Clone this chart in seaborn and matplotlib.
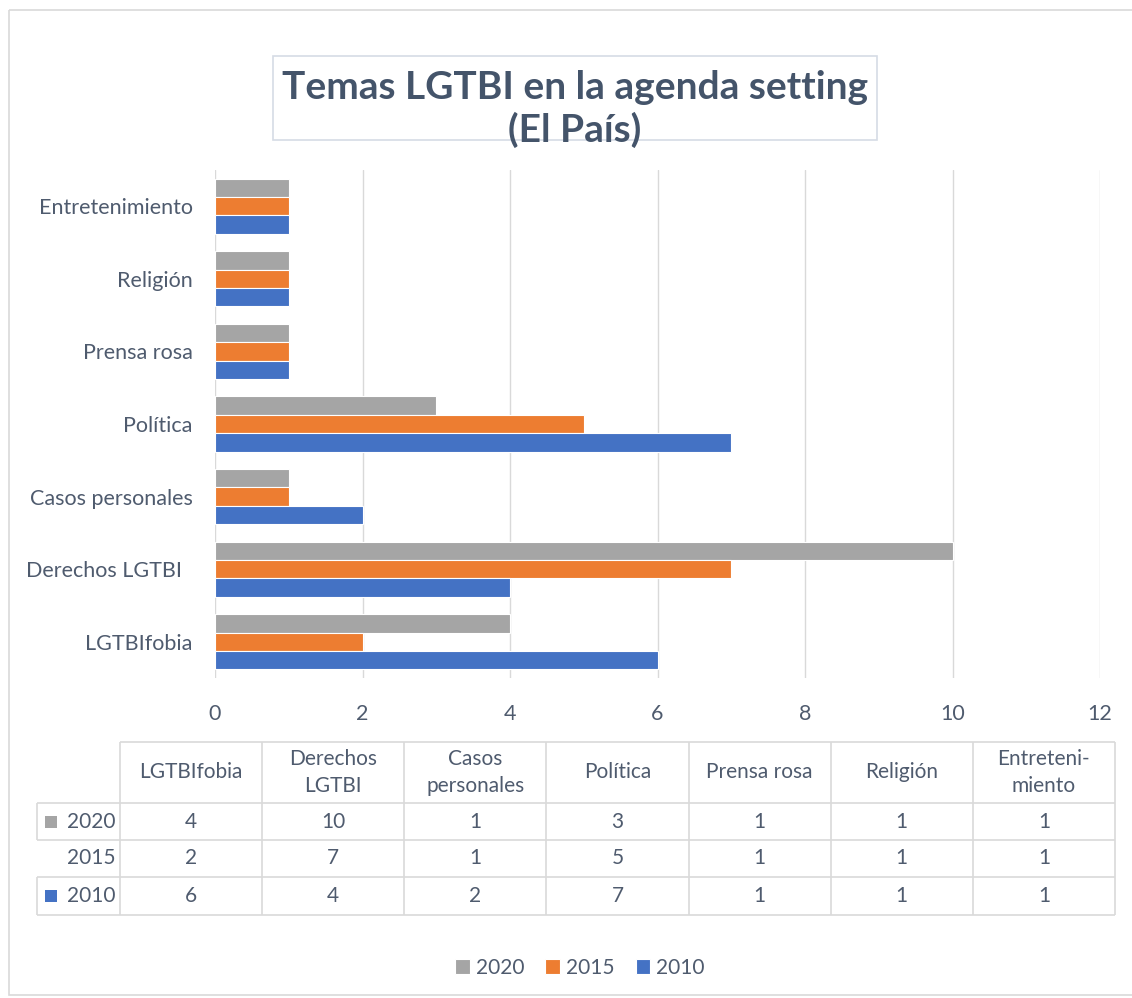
import pandas as pd
import matplotlib
matplotlib.use("Agg")
import matplotlib.pyplot as plt
from matplotlib.patches import Rectangle
import seaborn as sns

# data (bottom to top in the chart)
categories = ['LGTBIfobia', 'Derechos LGTBI', 'Casos personales', 'Política',
              'Prensa rosa', 'Religión', 'Entretenimiento']
years = ['2020', '2015', '2010']
v2020 = [4, 10, 1, 3, 1, 1, 1]
v2015 = [2, 7, 1, 5, 1, 1, 1]
v2010 = [6, 4, 2, 7, 1, 1, 1]
table_headers = ['LGTBIfobia', 'Derechos\nLGTBI', 'Casos\npersonales', 'Política',
                 'Prensa rosa', 'Religión', 'Entreteni-\nmiento']
colors = {'2020': '#A5A5A5', '2015': '#ED7D31', '2010': '#4472C4'}

rows = []
for yr, vals in zip(years, [v2020, v2015, v2010]):
    for c, v in zip(categories, vals):
        rows.append({'tema': c, 'año': yr, 'n': v})
df = pd.DataFrame(rows)

sns.set_theme(style="white")
plt.rcParams['font.family'] = ['Lato', 'DejaVu Sans']
txt = '#4F5B6E'
fs = 15

W, H = 1132, 998
fig = plt.figure(figsize=(W / 100, H / 100), dpi=100)

# overlay axes in pixel coordinates for frame, title box and table
ov = fig.add_axes([0, 0, 1, 1])
ov.set_xlim(0, W)
ov.set_ylim(H, 0)
ov.axis('off')
ov.add_patch(Rectangle((9, 10), W, 985, fill=False, edgecolor='#D9D9D9', lw=1.2))
ov.add_patch(Rectangle((273, 56), 604, 84, fill=False, edgecolor='#D6DCE5', lw=1.2))
ov.text(575, 109, 'Temas LGTBI en la agenda setting\n(El País)', ha='center', va='center',
        fontsize=28, fontweight='bold', color='#44546A', linespacing=1.22)

ax = fig.add_axes([215 / W, 1 - 678 / H, 885 / W, 508 / H])
order = categories[::-1]
sns.barplot(data=df, x='n', y='tema', hue='año', order=order, hue_order=years,
            palette=colors, saturation=1, orient='h', width=0.76, edgecolor='white',
            linewidth=0.8, ax=ax, zorder=3)
ax.set_xlim(0, 12)
ax.set_xticks(range(0, 13, 2))
ax.grid(axis='x', color='#D9D9D9', lw=1, zorder=0)
ax.grid(axis='y', visible=False)
for s in ax.spines.values():
    s.set_visible(False)
ax.set_xlabel('')
ax.set_ylabel('')
ylabels = [c + '  ' if c == 'Derechos LGTBI' else c for c in order]
ax.set_yticks(range(len(order)))
ax.set_yticklabels(ylabels)
ax.tick_params(axis='y', length=0, pad=16, labelsize=15.5, labelcolor=txt)
ax.tick_params(axis='x', length=0, pad=19, labelsize=15.5, labelcolor=txt)
handles, labels = ax.get_legend_handles_labels()
ax.get_legend().remove()

# data table under the chart
col_x = [120 + 142.14 * i for i in range(8)]
row_y = [742, 803, 840, 877, 915]
lc = '#D9D9D9'
ov.hlines(row_y[0], col_x[0], col_x[-1], color=lc, lw=1.2)
ov.hlines(row_y[1:], 37, col_x[-1], color=lc, lw=1.2)
ov.vlines(col_x, row_y[0], row_y[-1], color=lc, lw=1.2)
ov.vlines(37, row_y[1], row_y[2], color=lc, lw=1.2)
ov.vlines(37, row_y[3], row_y[4], color=lc, lw=1.2)
for i, h in enumerate(table_headers):
    ov.text((col_x[i] + col_x[i + 1]) / 2, (row_y[0] + row_y[1]) / 2, h, ha='center',
            va='center', fontsize=fs, color=txt, linespacing=1.4)
for r, (yr, vals) in enumerate(zip(years, [v2020, v2015, v2010])):
    yc = (row_y[r + 1] + row_y[r + 2]) / 2
    ov.text(116, yc, yr, ha='right', va='center', fontsize=fs, color=txt)
    if yr != '2015':
        ov.add_patch(Rectangle((45, yc - 6), 12, 12, color=colors[yr], lw=0))
    for i, v in enumerate(vals):
        ov.text((col_x[i] + col_x[i + 1]) / 2, yc, str(v), ha='center', va='center',
                fontsize=fs, color=txt)

fig.legend(handles, labels, loc='center', bbox_to_anchor=(580 / W, 1 - 968 / H), ncol=3,
           frameon=False, fontsize=fs, labelcolor=txt, handlelength=0.7, handleheight=0.7,
           handletextpad=0.3, columnspacing=1.0)

fig.savefig('out.png', dpi=100)
